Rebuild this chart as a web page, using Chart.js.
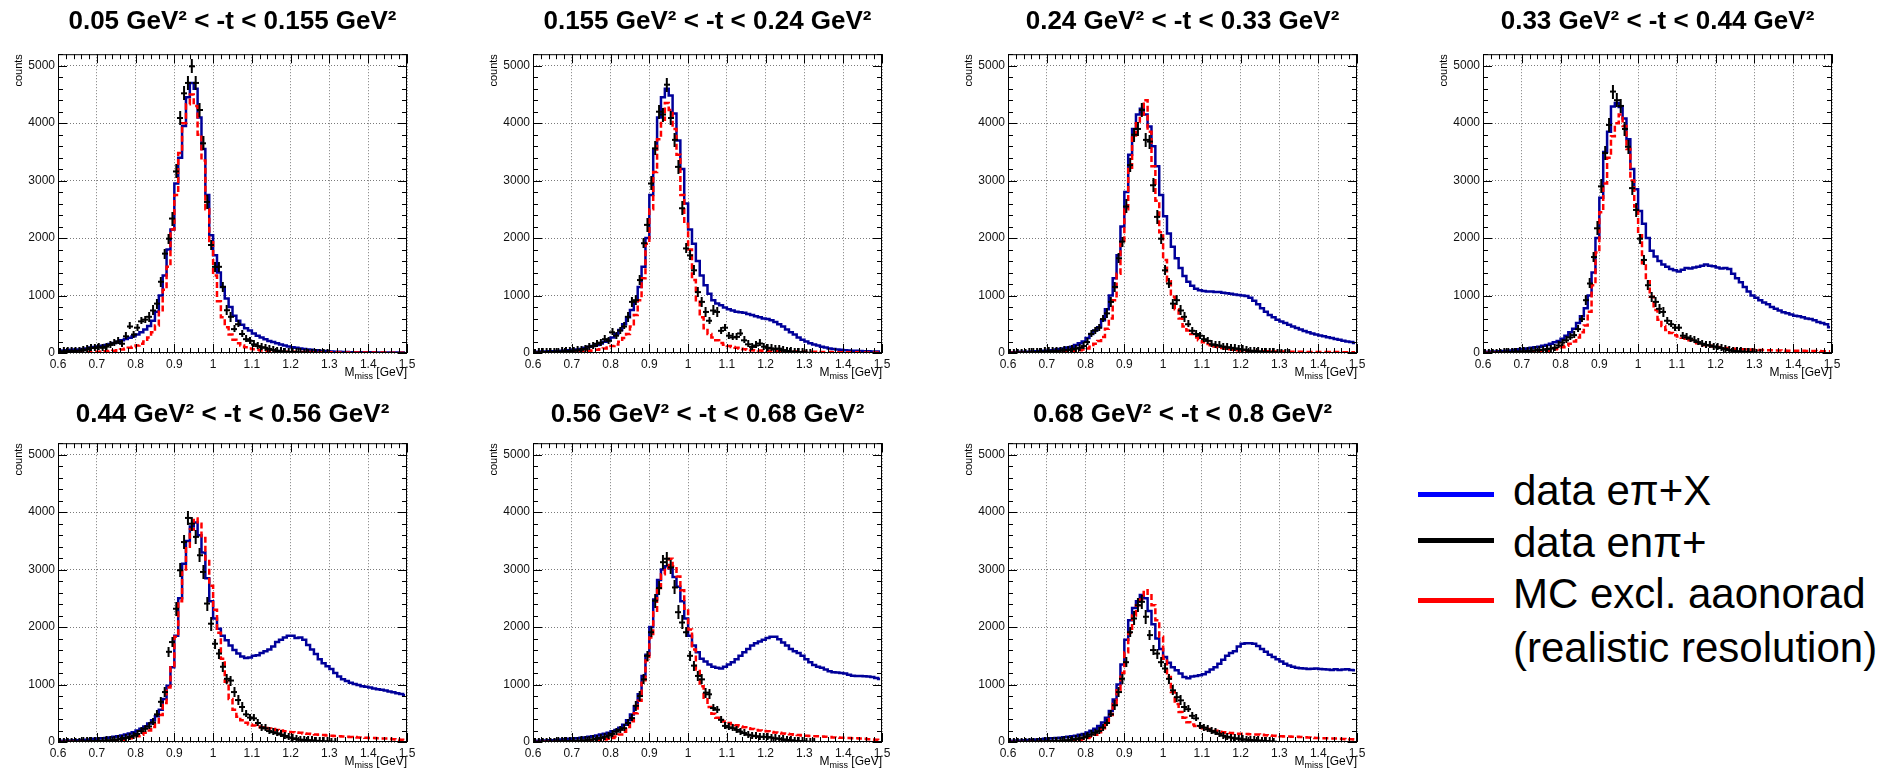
<!DOCTYPE html>
<html>
<head>
<meta charset="utf-8">
<script src="https://cdn.jsdelivr.net/npm/chart.js@4.4.1/dist/chart.umd.min.js"></script>
<style>
  html, body { margin: 0; padding: 0; background: #fff; }
  body { width: 1898px; height: 770px; position: relative; overflow: hidden;
         font-family: "Liberation Sans", Arial, sans-serif; }
  canvas.panel { position: absolute; }
  .leg-line { position: absolute; left: 1418px; width: 76px; height: 5px; }
  .leg-text { position: absolute; left: 1513px; font-size: 42px; line-height: 52px;
              color: #000; white-space: nowrap; }
</style>
</head>
<body>
<canvas class="panel" id="p1" width="429" height="381" style="left:0px;top:0px"></canvas>
<canvas class="panel" id="p2" width="429" height="381" style="left:475px;top:0px"></canvas>
<canvas class="panel" id="p3" width="429" height="381" style="left:950px;top:0px"></canvas>
<canvas class="panel" id="p4" width="429" height="381" style="left:1425px;top:0px"></canvas>
<canvas class="panel" id="p5" width="429" height="381" style="left:0px;top:389px"></canvas>
<canvas class="panel" id="p6" width="429" height="381" style="left:475px;top:389px"></canvas>
<canvas class="panel" id="p7" width="429" height="381" style="left:950px;top:389px"></canvas>

<div class="leg-line" style="top:492px;background:#0000ff"></div>
<div class="leg-line" style="top:538px;background:#000"></div>
<div class="leg-line" style="top:598px;background:#ff0000"></div>
<div class="leg-text" style="top:465px">data eπ+X</div>
<div class="leg-text" style="top:517px">data enπ+</div>
<div class="leg-text" style="top:568px">MC excl. aaonorad</div>
<div class="leg-text" style="top:622px">(realistic resolution)</div>

<script>
const FONT = "'Liberation Sans', Arial, sans-serif";

/* ================= DATA ================= */
// bin centres of M_miss [GeV], 0.01 GeV bins from 0.6 to 1.5
const BIN_CENTERS = Array.from({ length: 90 }, (_, i) => +(0.605 + i * 0.01).toFixed(3));

const massTicks = [0.6, 0.7, 0.8, 0.9, 1.0, 1.1, 1.2, 1.3, 1.4, 1.5];
const countTicks = [0, 1000, 2000, 3000, 4000, 5000];

const titles = [
    "0.05 GeV² < -t < 0.155 GeV²",
    "0.155 GeV² < -t < 0.24 GeV²",
    "0.24 GeV² < -t < 0.33 GeV²",
    "0.33 GeV² < -t < 0.44 GeV²",
    "0.44 GeV² < -t < 0.56 GeV²",
    "0.56 GeV² < -t < 0.68 GeV²",
    "0.68 GeV² < -t < 0.8 GeV²"
];

// data e pi+ X (blue)
const piX1 = [40,45,50,55,60,60,70,80,95,105, 115,125,140,155,175,195,220,245,265,290,
    320,360,410,470,560,720,1000,1350,1800,2150, 2950,3400,3950,4450,4700,4600,4100,3550,2750,2050,
    1700,1400,1150,950,800,650,560,490,430,390, 340,300,270,240,210,190,170,150,130,115,
    100,90,80,70,60,55,50,40,35,30, 25,22,20,18,16,15,14,13,12,12, 11,11,10,10,10,10,10,10,10,10];
const piX2 = [20,22,25,28,30,32,35,40,45,50, 55,60,70,90,110,120,140,165,195,230,
    270,330,400,500,620,750,900,1150,1500,2000, 2750,3550,4100,4450,4600,4480,4170,3700,3200,2600,
    2150,1900,1600,1350,1180,1030,920,860,830,790, 760,740,720,710,700,680,660,640,620,600,
    590,570,540,500,460,410,360,320,270,230, 200,170,150,130,110,95,80,70,60,55, 50,45,40,38,35,32,30,28,25,25];
const piX3 = [15,15,18,20,20,22,25,30,35,40, 45,50,60,70,80,95,110,140,170,200,
    260,330,390,450,570,760,1000,1300,1700,2200, 2800,3450,3900,4150,4250,4150,3940,3600,3250,2750,
    2380,2080,1850,1650,1480,1340,1240,1170,1120,1090, 1080,1070,1070,1060,1060,1050,1040,1030,1020,1010,
    1000,990,960,910,850,780,720,660,620,580, 550,520,490,460,435,410,385,360,340,320, 305,290,275,260,245,230,215,200,190,175];
const piX4 = [20,22,25,28,30,35,40,45,55,65, 70,80,90,100,110,125,140,160,185,210,
    250,300,360,420,520,640,780,1000,1400,2000, 2700,3500,3850,4290,4350,4280,4080,3720,3200,2850,
    2470,2250,2000,1780,1680,1600,1540,1500,1460,1440, 1420,1450,1480,1470,1490,1500,1520,1540,1520,1510,
    1490,1470,1480,1460,1380,1300,1230,1150,1070,1000, 960,920,880,850,800,770,740,710,690,670, 650,640,620,600,590,570,540,520,500,450];
const piX5 = [20,22,25,28,30,32,35,40,45,55, 60,65,70,80,90,100,115,130,150,170,
    200,230,270,320,380,450,560,750,980,1300, 1850,2500,3100,3500,3750,3820,3600,3300,2850,2450,
    2150,1970,1850,1770,1680,1600,1540,1490,1460,1470, 1500,1510,1550,1580,1610,1660,1740,1780,1820,1850,
    1850,1810,1820,1780,1690,1610,1530,1440,1370,1320, 1270,1200,1140,1090,1060,1030,1010,990,970,960, 950,930,920,910,895,880,865,850,835,815];
const piX6 = [20,22,25,28,30,32,38,42,48,55, 60,65,72,80,90,100,115,130,145,160,
    185,210,250,300,380,480,620,830,1150,1520, 2000,2480,2820,3000,3060,3020,2870,2700,2450,2150,
    1850,1680,1560,1450,1400,1350,1310,1290,1280,1310, 1350,1390,1440,1500,1560,1620,1680,1720,1750,1780,
    1810,1830,1830,1790,1730,1680,1620,1580,1550,1500, 1440,1390,1340,1310,1290,1260,1230,1215,1210,1200, 1190,1170,1155,1150,1150,1145,1140,1130,1115,1095];
const piX7 = [20,22,25,28,30,35,40,45,50,55, 60,65,70,75,82,90,100,110,125,140,
    165,195,230,280,340,420,540,740,1000,1350, 1780,2120,2330,2450,2560,2500,2280,2050,1800,1620,
    1480,1380,1300,1250,1190,1130,1110,1140,1150,1160, 1180,1220,1260,1300,1360,1430,1500,1550,1580,1660,
    1710,1720,1720,1710,1670,1620,1570,1520,1480,1440, 1400,1360,1330,1310,1290,1285,1280,1270,1275,1280, 1270,1265,1260,1255,1265,1255,1260,1265,1255,1250];

// data e n pi+ (black points)
const npi1 = [30,35,40,40,45,50,55,70,100,95, 110,100,120,150,180,210,170,300,470,330,
    450,560,590,630,740,860,1240,1730,1990,2340, 3160,4090,4520,4700,4990,4700,4230,3650,2630,1880,
    1500,1500,1150,745,630,425,510,340,250,220, 160,130,110,100,80,60,50,40,30,30, 25,20,20,15,15,10,10,10,10,5];
const npi2 = [15,20,20,25,25,30,30,35,40,45, 50,55,65,80,120,130,170,190,250,220,
    370,310,400,470,630,890,920,1270,1910,2230, 2950,3560,4200,4150,4670,4090,3710,3240,2520,1820,
    1700,1440,1060,890,715,570,740,715,395,450, 310,280,290,350,230,160,115,140,175,120,
    100,90,80,85,60,45,35,30,25,20, 15,10];
const npi3 = [10,10,12,15,15,18,20,25,30,35, 40,40,45,50,55,60,70,85,100,130,
    200,340,400,450,600,690,890,1150,1650,1940, 2550,3270,3800,3900,4230,3710,3680,2920,2370,1990,
    1440,1210,860,920,740,630,510,395,340,310, 250,220,160,150,140,120,110,100,90,80,
    70,60,50,45,40,30,25,20,20,15, 10,10,5];
const npi4 = [10,10,12,15,15,18,20,25,30,35, 40,45,50,55,60,65,75,85,100,140,
    190,230,280,320,425,600,920,1210,1670,2170, 2900,3480,3970,4550,4400,4300,3900,3590,2870,2490,
    1990,1620,1180,980,890,770,715,570,510,450, 450,310,280,260,230,200,170,150,140,120,
    110,95,80,60,50,40,35,30,25,20, 15,10];
const npi5 = [10,10,12,12,15,15,18,20,22,25, 28,30,35,40,45,55,65,80,100,120,
    150,200,240,280,350,490,700,870,1570,1740, 2320,2990,3480,3900,3800,3570,3250,2960,2410,2060,
    1710,1540,1310,1100,1070,870,730,610,490,435, 420,340,260,245,200,180,160,140,115,90,
    75,60,50,45,40,35,30,25,20,18, 15,10];
const npi6 = [10,10,12,12,15,15,18,20,22,25, 28,30,35,40,48,55,65,80,100,120,
    150,190,220,250,340,425,630,800,1090,1500, 1910,2460,2680,3130,3190,3040,2690,2260,2080,1910,
    1500,1330,1150,1090,860,830,600,570,395,290, 265,250,220,190,165,135,120,110,100,100,
    95,85,75,65,55,45,40,30,25,20, 15,10,8];
const npi7 = [8,8,10,10,12,12,14,15,17,20, 22,25,28,32,36,40,50,60,75,90,
    110,140,170,200,260,340,490,640,870,1100, 1390,1910,2150,2380,2440,2180,1860,1600,1540,1390,
    1280,1100,900,780,725,610,580,465,420,290, 260,230,200,175,150,120,100,85,75,65,
    55,50,45,40,35,30,25,20,15];

// MC exclusive aaonorad (red dashed)
const mc1 = [5,5,5,8,8,10,10,12,15,18, 20,25,30,35,40,50,60,75,90,110,
    130,160,200,270,360,480,720,1100,1500,2150, 2750,3480,4000,4330,4500,4300,3800,3350,2500,1950,
    1350,900,620,450,320,230,170,130,100,80, 65,55,45,40,35,30,28,25,23,22,
    20,19,18,17,16,15,14,13,12,12, 11,11,10,10,10,9,9,9,8,8, 8,8,7,7,7,6,6,6,5,5];
const mc2 = [5,5,5,8,8,10,10,12,15,18, 20,25,30,35,40,45,55,65,80,95,
    120,150,195,260,330,460,660,920,1300,1900, 2500,3150,3720,4060,4350,4230,3900,3450,2750,2250,
    1800,1270,890,620,430,330,270,220,175,145, 120,105,90,75,65,55,50,45,42,40,
    38,36,34,32,30,28,27,26,25,24, 22,21,20,19,18,17,16,15,14,13, 12,12,11,11,10,10,10,9,9,9];
const mc3 = [3,3,4,5,5,6,7,8,9,10, 12,14,16,18,20,25,30,40,50,60,
    80,110,160,210,280,420,600,920,1380,1900, 2500,3200,3750,4000,4150,4400,3850,3250,2650,2100,
    1620,1250,980,760,600,460,390,330,270,220, 185,155,135,115,100,85,75,65,55,50,
    45,40,38,35,33,30,29,28,27,26, 25,24,23,22,21,20,20,19,19,18, 18,17,17,16,16,16,15,15,15,15];
const mc4 = [3,3,4,5,5,6,7,8,9,10, 12,15,18,22,26,32,40,50,65,80,
    100,125,160,200,270,360,480,720,1180,1750, 2450,2950,3400,3770,4000,4150,3950,3550,3000,2550,
    2050,1560,1250,980,750,580,470,400,350,310, 285,265,250,220,190,170,150,135,125,115,
    105,95,85,78,72,68,65,62,60,58, 55,53,51,49,47,45,43,42,41,40, 39,38,37,36,35,34,33,32,31,30];
const mc5 = [2,2,3,3,4,4,5,5,6,7, 8,10,12,15,20,28,38,50,65,80,
    100,125,160,200,260,340,470,680,950,1300, 1830,2450,3000,3400,3700,3890,3800,3550,3150,2720,
    2300,1900,1450,1050,750,560,440,380,335,305, 285,270,255,245,235,225,210,200,185,175,
    170,165,160,150,145,140,130,125,120,115, 110,105,100,95,90,88,85,80,75,72, 70,68,65,62,60,55,50,45,40,30];
const mc6 = [2,2,2,3,3,3,4,4,5,5, 6,7,8,10,14,20,26,34,45,55,
    70,95,130,180,260,360,500,720,1030,1420, 1820,2260,2680,2920,3030,3190,3060,2880,2640,2320,
    1960,1610,1260,970,770,610,490,420,380,355, 330,310,290,270,255,240,225,210,200,190,
    185,175,165,160,150,145,135,128,120,115, 110,105,100,98,95,90,85,80,78,75, 72,70,67,64,60,55,50,45,40,35];
const mc7 = [1,1,2,2,2,3,3,3,4,4, 5,6,7,8,12,16,22,30,40,52,
    68,90,125,170,240,340,470,660,900,1200, 1560,1900,2200,2380,2480,2640,2580,2380,2120,1830,
    1450,1130,870,660,520,420,345,305,280,260, 240,225,210,195,180,170,162,155,150,145,
    142,138,135,132,130,125,118,112,108,105, 100,97,95,92,90,86,82,78,74,70, 68,66,64,62,60,57,54,50,47,45];

/* ================= HELPERS ================= */
function toXY(values) {
    return values.map((v, i) => ({ x: BIN_CENTERS[i], y: v }));
}

// error-bar style marker: vertical bar + short bin-width bar
function errMark(h) {
    const c = document.createElement("canvas");
    c.width = 6;
    c.height = h;
    const g = c.getContext("2d");
    g.fillStyle = "#000";
    g.fillRect(2, 0, 2, h);
    g.fillRect(0, Math.round(h / 2) - 1, 6, 2);
    return c;
}
const MARK_S = errMark(7);
const MARK_M = errMark(10);
const MARK_L = errMark(14);

function markFor(ctx) {
    const y = ctx.raw ? ctx.raw.y : 0;
    if (y > 2000) return MARK_L;
    if (y > 600) return MARK_M;
    return MARK_S;
}

/* ================= ROOT-LIKE FRAME, TICKS, AXIS TITLES ================= */
const rootFrame = {
    id: "rootFrame",
    afterDraw(chart) {
        const { ctx, chartArea: a, scales: { x, y } } = chart;
        ctx.save();
        ctx.strokeStyle = "#000";
        ctx.lineWidth = 1;
        ctx.strokeRect(a.left + 0.5, a.top + 0.5, a.right - a.left - 1, a.bottom - a.top - 1);

        ctx.beginPath();
        for (let k = 0; k <= 45; k++) {
            const px = Math.round(x.getPixelForValue(0.6 + k * 0.02)) + 0.5;
            const len = k % 5 === 0 ? 9 : 5;
            ctx.moveTo(px, a.bottom); ctx.lineTo(px, a.bottom - len);
            ctx.moveTo(px, a.top); ctx.lineTo(px, a.top + len);
        }
        for (let k = 0; k <= 26; k++) {
            const py = Math.round(y.getPixelForValue(k * 200)) + 0.5;
            const len = k % 5 === 0 ? 9 : 5;
            ctx.moveTo(a.left, py); ctx.lineTo(a.left + len, py);
            ctx.moveTo(a.right, py); ctx.lineTo(a.right - len, py);
        }
        ctx.stroke();

        // y title
        ctx.fillStyle = "#000";
        ctx.font = "11px " + FONT;
        ctx.save();
        ctx.translate(a.left - 36, a.top);
        ctx.rotate(-Math.PI / 2);
        ctx.textAlign = "right";
        ctx.fillText("counts", 0, 0);
        ctx.restore();

        // x title: M_miss [GeV]
        const base = a.bottom + 23;
        ctx.textAlign = "left";
        ctx.font = "12px " + FONT;
        const tail = " [GeV]";
        const wT = ctx.measureText(tail).width;
        const wM = ctx.measureText("M").width;
        ctx.font = "9px " + FONT;
        const wS = ctx.measureText("miss").width;
        const x0 = a.right - wT - wS - wM;
        ctx.font = "12px " + FONT;
        ctx.fillText("M", x0, base);
        ctx.fillText(tail, x0 + wM + wS, base);
        ctx.font = "9px " + FONT;
        ctx.fillText("miss", x0 + wM, base + 3);
        ctx.restore();
    }
};

/* ================= PANEL ================= */
function makePanel(id, title, piX, npi, mc, row) {
    const gridOpts = { color: "#7a7a7a", lineWidth: 1, drawTicks: false };
    const tickFont = { family: FONT, size: 12 };

    new Chart(document.getElementById(id), {
        type: "line",
        data: {
            datasets: [
                {
                    label: "data enπ+",
                    data: toXY(npi),
                    showLine: false,
                    pointStyle: markFor,
                    pointRadius: 3
                },
                {
                    label: "MC excl. aaonorad",
                    data: toXY(mc),
                    borderColor: "#ff0000",
                    borderWidth: 2.5,
                    borderDash: [6, 3],
                    stepped: "middle",
                    pointRadius: 0,
                    fill: false
                },
                {
                    label: "data eπ+X",
                    data: toXY(piX),
                    borderColor: "#00009a",
                    borderWidth: 2.5,
                    stepped: "middle",
                    pointRadius: 0,
                    fill: false
                }
            ]
        },
        options: {
            responsive: false,
            animation: false,
            events: [],
            layout: { padding: { left: 0, right: 22, top: 0, bottom: 0 } },
            plugins: {
                legend: { display: false },
                tooltip: { enabled: false },
                title: {
                    display: true,
                    text: title,
                    fullSize: false,
                    color: "#000",
                    font: { family: FONT, size: 26, weight: "bold", lineHeight: 1.2 },
                    padding: row === 0 ? { top: 6, bottom: 17 } : { top: 10, bottom: 13 }
                }
            },
            scales: {
                x: {
                    type: "linear",
                    min: 0.6,
                    max: 1.5,
                    afterFit: s => { s.height = 28; },
                    afterBuildTicks: s => { s.ticks = massTicks.map(v => ({ value: v })); },
                    ticks: {
                        autoSkip: false,
                        maxRotation: 0,
                        padding: 4,
                        color: "#111",
                        font: tickFont,
                        callback: v => String(+v.toFixed(1))
                    },
                    grid: gridOpts,
                    border: { display: false, dash: [1, 2] }
                },
                y: {
                    min: 0,
                    max: 5200,
                    afterFit: s => { s.width = 58; },
                    afterBuildTicks: s => { s.ticks = countTicks.map(v => ({ value: v })); },
                    ticks: {
                        autoSkip: false,
                        padding: 3,
                        color: "#111",
                        font: tickFont,
                        callback: v => String(v)
                    },
                    grid: gridOpts,
                    border: { display: false, dash: [1, 2] }
                }
            }
        },
        plugins: [rootFrame]
    });
}

/* ================= RENDER ================= */
makePanel("p1", titles[0], piX1, npi1, mc1, 0);
makePanel("p2", titles[1], piX2, npi2, mc2, 0);
makePanel("p3", titles[2], piX3, npi3, mc3, 0);
makePanel("p4", titles[3], piX4, npi4, mc4, 0);
makePanel("p5", titles[4], piX5, npi5, mc5, 1);
makePanel("p6", titles[5], piX6, npi6, mc6, 1);
makePanel("p7", titles[6], piX7, npi7, mc7, 1);
</script>
</body>
</html>
